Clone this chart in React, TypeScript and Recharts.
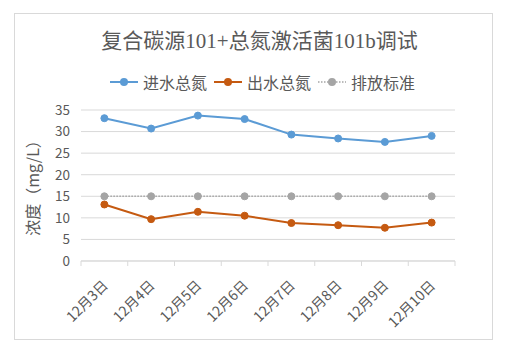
import React from 'react';
import { LineChart, Line, XAxis, YAxis, CartesianGrid, Legend } from 'recharts';

const categories = ['12月3日', '12月4日', '12月5日', '12月6日', '12月7日', '12月8日', '12月9日', '12月10日'];
const inflowTN = [33.1, 30.7, 33.7, 32.9, 29.3, 28.4, 27.6, 29.0];
const outflowTN = [13.1, 9.7, 11.4, 10.5, 8.8, 8.3, 7.7, 8.9];
const standardTN = [15, 15, 15, 15, 15, 15, 15, 15];
const yTicks = [0, 5, 10, 15, 20, 25, 30, 35];
const seriesNames = ['进水总氮', '出水总氮', '排放标准'];
const chartTitle = '复合碳源101+总氮激活菌101b调试';
const yAxisTitle = '浓度（mg/L）';

const data = categories.map((c, i) => ({
  date: c,
  inflow: inflowTN[i],
  outflow: outflowTN[i],
  std: standardTN[i],
}));

const W = 505;
const H = 353;
const PLOT_LEFT = 81;
const PLOT_RIGHT = 455;
const PLOT_TOP = 110;
const PLOT_BOTTOM = 261;
const BAND = (PLOT_RIGHT - PLOT_LEFT) / categories.length;
const TEXT = '#595959';
const GRID = '#d9d9d9';
const SANS = "'Noto Sans CJK SC', 'Noto Sans', sans-serif";

const XTick = (props: any) => {
  const { x, payload, index } = props;
  const last = index === categories.length - 1;
  return (
    <g>
      <line x1={x - BAND / 2} y1={PLOT_BOTTOM} x2={x - BAND / 2} y2={PLOT_BOTTOM + 5} stroke={GRID} />
      {last && <line x1={x + BAND / 2} y1={PLOT_BOTTOM} x2={x + BAND / 2} y2={PLOT_BOTTOM + 5} stroke={GRID} />}
      <text
        transform={`translate(${x + 1},${PLOT_BOTTOM + 22}) rotate(-45)`}
        textAnchor="end"
        dy="0.35em"
        fontSize={14}
        fontFamily={SANS}
        fill={TEXT}
      >
        {payload.value}
      </text>
    </g>
  );
};

const renderLegend = (props: any) => {
  const payload = [...(props.payload || [])].sort(
    (a: any, b: any) => seriesNames.indexOf(a.value) - seriesNames.indexOf(b.value)
  );
  return (
    <div style={{ display: 'flex', justifyContent: 'center', alignItems: 'center', paddingLeft: 20 }}>
      {payload.map((p: any, i: number) => {
        const dotted = seriesNames.indexOf(p.value) === 2;
        return (
          <div key={i} style={{ display: 'flex', alignItems: 'center', marginRight: i < payload.length - 1 ? 7 : 0 }}>
            <svg width={28} height={14} style={{ display: 'block' }}>
              <line
                x1={0}
                y1={7}
                x2={28}
                y2={7}
                stroke={p.color}
                strokeWidth={dotted ? 1.5 : 2}
                strokeDasharray={dotted ? '1.5 1.5' : undefined}
              />
              <circle cx={14} cy={7} r={4} fill={p.color} />
            </svg>
            <span style={{ marginLeft: 5, fontSize: 16, fontFamily: SANS, color: TEXT, lineHeight: '20px' }}>{p.value}</span>
          </div>
        );
      })}
    </div>
  );
};

export default function App() {
  return (
    <div style={{ position: 'absolute', left: 0, top: 0, width: W, height: H, background: '#fff' }}>
      <div
        style={{
          position: 'absolute',
          left: 14,
          top: 13,
          width: 479,
          height: 327,
          border: `1px solid ${GRID}`,
          boxSizing: 'border-box',
        }}
      />
      <div
        style={{
          position: 'absolute',
          left: 0,
          top: 27,
          width: 519,
          textAlign: 'center',
          fontSize: 21,
          lineHeight: '28px',
          fontFamily: "'Liberation Serif', 'Noto Sans CJK SC', serif",
          color: TEXT,
        }}
      >
        {chartTitle}
      </div>
      <LineChart
        width={W}
        height={H}
        data={data}
        margin={{ top: PLOT_TOP, right: W - PLOT_RIGHT, bottom: H - PLOT_BOTTOM - 60, left: 0 }}
      >
        <CartesianGrid vertical={false} stroke={GRID} />
        <XAxis
          dataKey="date"
          height={60}
          interval={0}
          padding={{ left: BAND / 2, right: BAND / 2 }}
          axisLine={{ stroke: GRID }}
          tickLine={false}
          tickSize={0}
          tickMargin={0}
          tick={<XTick />}
        />
        <YAxis
          width={PLOT_LEFT}
          domain={[0, 35]}
          ticks={yTicks}
          interval={0}
          axisLine={false}
          tickLine={false}
          tickSize={0}
          tickMargin={11}
          tick={{ fontSize: 13.5, fill: TEXT, fontFamily: SANS }}
          label={{
            content: () => (
              <text
                x={32}
                y={184}
                transform="rotate(-90 32 184)"
                textAnchor="middle"
                dominantBaseline="central"
                fontSize={16}
                fontFamily={SANS}
                fill={TEXT}
              >
                {yAxisTitle}
              </text>
            ),
          }}
        />
        <Legend
          layout="horizontal"
          verticalAlign="middle"
          align="center"
          wrapperStyle={{ top: 72, left: 0, width: W }}
          content={renderLegend}
        />
        <Line
          name={seriesNames[0]}
          dataKey="inflow"
          type="linear"
          stroke="#5B9BD5"
          strokeWidth={2}
          dot={{ r: 3.5, fill: '#5B9BD5', stroke: '#5B9BD5', strokeWidth: 1 }}
          isAnimationActive={false}
        />
        <Line
          name={seriesNames[1]}
          dataKey="outflow"
          type="linear"
          stroke="#C55A11"
          strokeWidth={2}
          dot={{ r: 3.5, fill: '#C55A11', stroke: '#C55A11', strokeWidth: 1 }}
          isAnimationActive={false}
        />
        <Line
          name={seriesNames[2]}
          dataKey="std"
          type="linear"
          stroke="#A5A5A5"
          strokeWidth={1.5}
          strokeDasharray="1.5 1.5"
          dot={{ r: 3.5, fill: '#A5A5A5', stroke: '#A5A5A5', strokeWidth: 1, strokeDasharray: '' }}
          isAnimationActive={false}
        />
      </LineChart>
    </div>
  );
}
